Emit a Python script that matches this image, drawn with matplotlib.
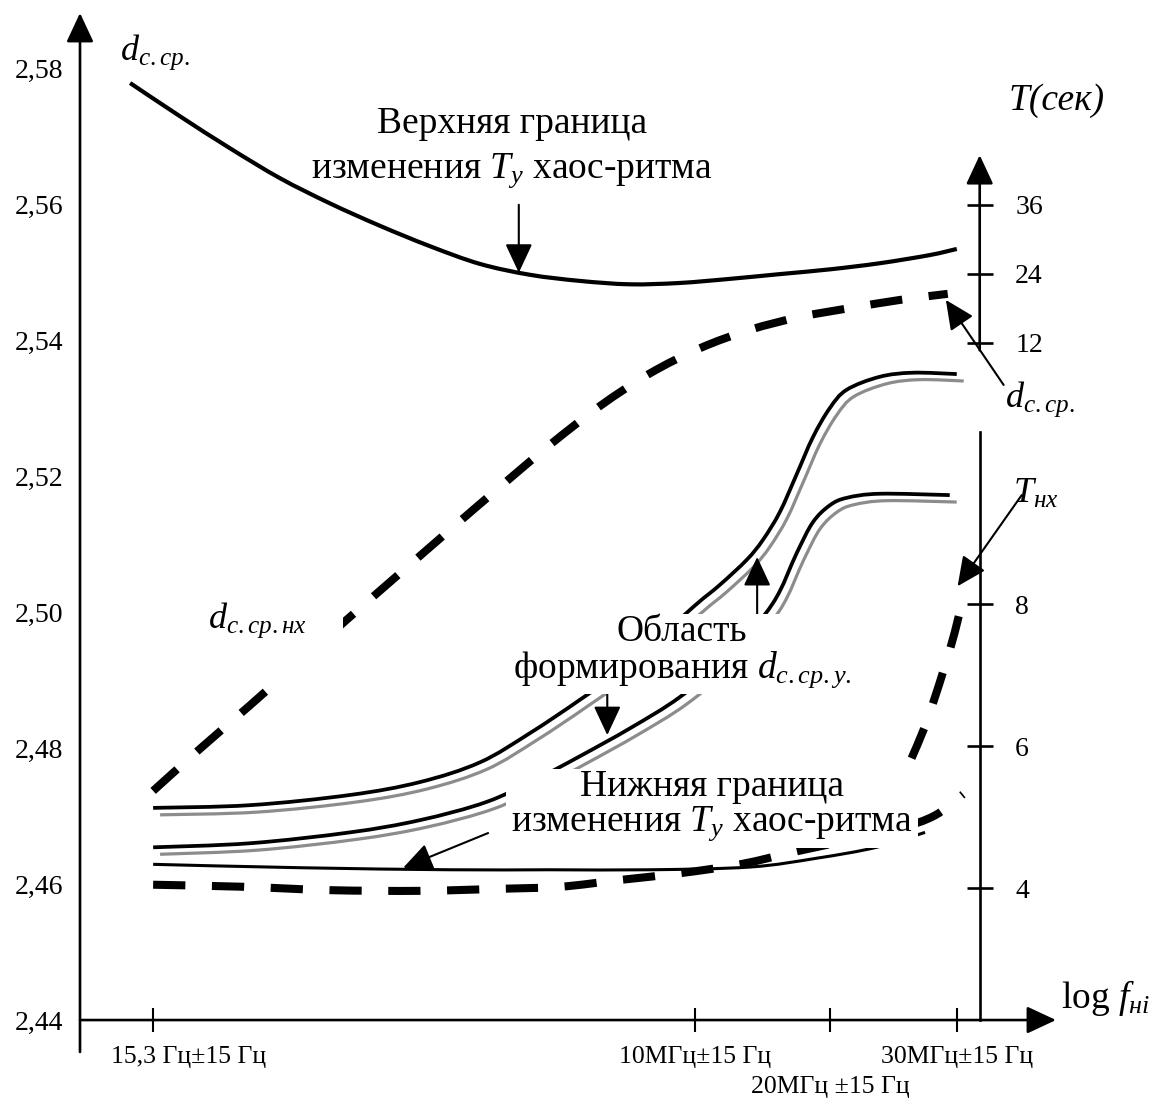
import matplotlib
matplotlib.use('agg')
import matplotlib.pyplot as plt
import matplotlib.patheffects as pe
import numpy as np
from matplotlib.path import Path
from matplotlib.patches import PathPatch
from matplotlib.transforms import ScaledTranslation

plt.rcParams['font.family'] = ['Liberation Serif', 'DejaVu Serif']
plt.rcParams['mathtext.fontset'] = 'custom'
plt.rcParams['mathtext.rm'] = 'Liberation Serif'
plt.rcParams['mathtext.it'] = 'Liberation Serif:italic'
plt.rcParams['mathtext.bf'] = 'Liberation Serif:bold'

# frequency axis (schematic log scale)
x_ticks = [1.0, 7.0, 8.5, 9.9]
x_labels = ['15,3 Гц±15 Гц', '10МГц±15 Гц', '20МГц ±15 Гц', '30МГц±15 Гц']
d_ticks = [2.44, 2.46, 2.48, 2.50, 2.52, 2.54, 2.56, 2.58]

# T(сек) scale on the right, broken axis: two linear pieces
T_low = [4, 6, 8]
T_high = [12, 24, 36]

# upper boundary of T_y chaos-rhythm change
x_top = [0.745, 1.299, 1.852, 2.406, 2.959, 3.513, 4.067, 4.620, 5.174, 5.727, 6.281,
         6.834, 7.388, 7.941, 8.495, 9.048, 9.602, 9.901]
d_top = [2.5778, 2.5729, 2.5682, 2.5638, 2.5601, 2.5568, 2.5538, 2.5512, 2.5496, 2.5487,
         2.5482, 2.5484, 2.5490, 2.5497, 2.5504, 2.5513, 2.5525, 2.5534]

# d_c.ср. (dashed, rising)
x_dsr = [1.0, 1.520, 2.074, 2.627, 3.181, 3.734, 4.288, 4.841, 5.395, 5.949, 6.502,
         7.056, 7.609, 8.163, 8.716, 9.270, 9.801]
d_dsr = [2.4737, 2.4799, 2.4863, 2.4928, 2.4993, 2.5057, 2.5121, 2.5184, 2.5246, 2.5303,
         2.5351, 2.5388, 2.5415, 2.5434, 2.5447, 2.5459, 2.5468]

# T_нх (dashed): flat part and steep rise near 30 MHz
x_tnx = [1.0, 2.0, 2.96, 3.96, 4.84, 5.51, 6.17, 6.84, 7.50, 8.16, 8.72, 9.27, 9.66, 9.97]
d_tnx = [2.4599, 2.4596, 2.4591, 2.4590, 2.4593, 2.4596, 2.4606, 2.4616, 2.4629, 2.4649,
         2.4665, 2.4682, 2.4701, 2.4732]
x_tnx_up = [9.40, 9.54, 9.65, 9.77, 9.88, 9.97]
d_tnx_up = [2.4785, 2.4829, 2.4871, 2.4921, 2.4971, 2.5021]

# lower boundary of T_y chaos-rhythm change
x_low = [1.0, 2.63, 4.29, 5.39, 6.50, 7.61, 8.35, 9.01, 9.55]
d_low = [2.4629, 2.4624, 2.4621, 2.4621, 2.4621, 2.4625, 2.4638, 2.4654, 2.4676]

# region of d_c.ср.у. formation: two double curves
x_ra = [1.0, 2.074, 3.181, 3.956, 4.620, 5.174, 5.727, 6.281, 6.978, 7.277, 7.576, 7.753,
        7.941, 8.129, 8.307, 8.495, 8.683, 9.048, 9.414, 9.901]
d_ra = [2.4712, 2.4716, 2.4731, 2.4750, 2.4779, 2.4822, 2.4871, 2.4924, 2.5007, 2.5040,
        2.5077, 2.5106, 2.5147, 2.5203, 2.5257, 2.5300, 2.5327, 2.5346, 2.5352, 2.5350]
x_rb = [1.0, 2.074, 3.181, 3.956, 4.698, 5.284, 5.727, 6.281, 6.834, 7.388, 7.864, 8.129,
        8.307, 8.495, 8.683, 9.048, 9.823]
d_rb = [2.4654, 2.4660, 2.4676, 2.4694, 2.4721, 2.4757, 2.4788, 2.4829, 2.4875, 2.4937,
        2.5013, 2.5087, 2.5132, 2.5157, 2.5168, 2.5174, 2.5172]

T_AXIS_X = 10.155


def t_to_d(t):
    if t <= 10:
        return 2.4594 + (t - 4) * 0.01044
    return 2.5396 + (t - 12) * 0.000846


def smooth_path(xs, ys):
    # Catmull-Rom through the points, written as cubic Bezier segments
    p = np.column_stack([xs, ys])
    p = np.vstack([p[0], p, p[-1]])
    verts = [p[1]]
    codes = [Path.MOVETO]
    for i in range(1, len(p) - 2):
        c1 = p[i] + (p[i + 1] - p[i - 1]) / 6
        c2 = p[i + 1] - (p[i + 2] - p[i]) / 6
        verts += [c1, c2, p[i + 1]]
        codes += [Path.CURVE4] * 3
    return Path(verts, codes)


def curve(xs, ys, **kw):
    kw.setdefault('capstyle', 'butt')
    kw.setdefault('joinstyle', 'round')
    ax.add_patch(PathPatch(smooth_path(xs, ys), fill=False, **kw))


fig = plt.figure(figsize=(11.56, 10.98), dpi=100)
ax = fig.add_axes([80 / 1156, 46 / 1098, 976 / 1156, 1039 / 1098])
ax.set_xlim(0.19, 11.0)
ax.set_ylim(2.4353, 2.5881)

arrow_kw = dict(arrowstyle='-|>,head_length=0.9,head_width=0.42', mutation_scale=20,
                lw=1.5, color='black', shrinkA=0, shrinkB=0)
axis_arrow = dict(arrow_kw, lw=1.9)


def arrow(tail, tip, props=arrow_kw):
    ax.annotate('', xy=tip, xytext=tail, arrowprops=props, annotation_clip=False, zorder=4)


# axes drawn as arrows; spines only carry the ticks
for s in ['top', 'right', 'left', 'bottom']:
    ax.spines[s].set_visible(False)
ax.spines['bottom'].set_position(('data', 2.44))
arrow((0.19, 2.4353), (0.19, 2.5881), axis_arrow)
arrow((0.19, 2.44), (11.0, 2.44), axis_arrow)

ax.set_xticks(x_ticks)
ax.tick_params(axis='x', direction='inout', length=17, width=1.5, labelbottom=False)
label_shift = [0.35, 0, 0, 0]
label_row = [0, 0, 1, 0]
for xt, lab, dx, row in zip(x_ticks, x_labels, label_shift, label_row):
    ax.text(xt, 2.4337 - row * 0.00441, lab, ha='center', va='baseline', fontsize=18.5,
            transform=ax.transData + ScaledTranslation(dx, 0, fig.dpi_scale_trans))

ax.set_yticks(d_ticks, labels=[f'{v:.2f}'.replace('.', ',') for v in d_ticks])
ax.tick_params(axis='y', length=0, pad=12, labelsize=20)

# right T(сек) axis
ax2 = ax.twinx()
ax2.set_ylim(ax.get_ylim())
for s in ['left', 'top', 'bottom']:
    ax2.spines[s].set_visible(False)
ax2.spines['right'].set_position(('data', T_AXIS_X))
ax2.spines['right'].set_bounds(2.44, 2.5265)
ax2.spines['right'].set_linewidth(1.9)
t_vals = T_low + T_high
ax2.set_yticks([t_to_d(t) for t in t_vals], labels=[str(t) for t in t_vals])
ax2.tick_params(axis='y', direction='inout', length=19, width=1.9, pad=16, labelsize=20)
arrow((T_AXIS_X, 2.5385), (T_AXIS_X, 2.5672), axis_arrow)

# curves
curve(x_top, d_top, color='black', lw=3.0)
curve(x_low, d_low, color='black', lw=2.2)
dash_kw = dict(color='black', lw=5.8, linestyle=(0, (4.0, 3.3)))
curve(x_dsr, d_dsr, **dash_kw)
curve(x_tnx, d_tnx, **dash_kw)
curve(x_tnx_up, d_tnx_up, **dash_kw)
shadow = [pe.SimpleLineShadow(offset=(5, -5), shadow_color='#8c8c8c', alpha=1.0, linewidth=2.3),
          pe.Normal()]
curve(x_ra, d_ra, color='black', lw=2.7, path_effects=shadow)
curve(x_rb, d_rb, color='black', lw=2.7, path_effects=shadow)

# labels
ax.text(0.635, 2.5812, '$d_{с.ср.}$', fontsize=26, ha='left', va='baseline')
ax.text(10.43, 2.5301, '$d_{с.ср.}$', fontsize=26, ha='left', va='baseline')
ax.text(10.52, 2.5160, '$T_{нх}$', fontsize=26, ha='left', va='baseline')
ax.text(10.47, 2.5738, 'T(сек)', fontsize=27, fontstyle='italic', ha='left', va='baseline')
ax.text(11.06, 2.4418, 'log $f_{нi}$', fontsize=27, ha='left', va='baseline')
ax.text(1.61, 2.4976, '$d_{с.ср.нх}$', fontsize=26, ha='left', va='baseline', zorder=5,
        bbox=dict(boxstyle='square,pad=1.0', fc='white', ec='none'))

ax.text(4.97, 2.5682, 'Верхняя граница\nизменения $T_y$ хаос-ритма', fontsize=27,
        ha='center', va='center', linespacing=1.38)
ax.text(6.86, 2.4941, 'Область\nформирования $d_{с.ср.у.}$', fontsize=27,
        ha='center', va='center', linespacing=1.0, zorder=5,
        bbox=dict(boxstyle='square,pad=0.12', fc='white', ec='none'))
ax.text(7.19, 2.4714, 'Нижняя граница\nизменения $T_y$ хаос-ритма', fontsize=27,
        ha='center', va='center', linespacing=1.0, zorder=5,
        bbox=dict(boxstyle='square,pad=0.14', fc='white', ec='none'))

# pointers
arrow((5.05, 2.5599), (5.05, 2.5499))
arrow((10.42, 2.5334), (9.78, 2.5459))
arrow((7.69, 2.4990), (7.69, 2.5081))
arrow((6.03, 2.4890), (6.03, 2.4819))
arrow((4.71, 2.4675), (3.77, 2.4624))
arrow((10.62, 2.5172), (9.91, 2.5038))

fig.savefig('out.png', dpi=100, facecolor='white')
